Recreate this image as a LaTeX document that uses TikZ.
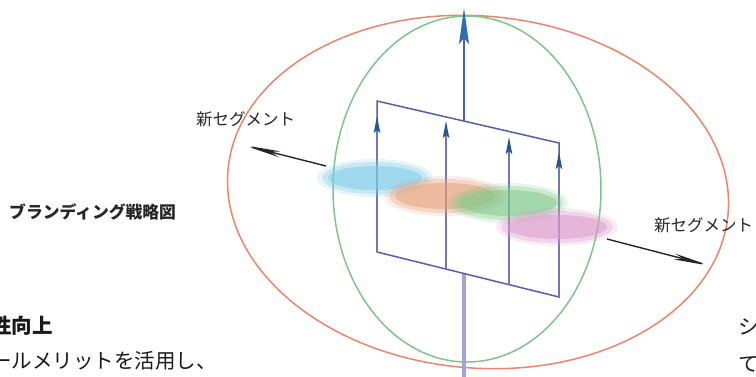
\documentclass[tikz,border=0pt]{standalone}
\usepackage{fontspec}
\newfontfamily\jp{Noto Sans CJK JP}
\usetikzlibrary{arrows.meta}
\definecolor{orel}{HTML}{E8866E}
\definecolor{grel}{HTML}{7EC48C}
\definecolor{axblue}{HTML}{2F6DB2}
\definecolor{planec}{HTML}{5A5EA6}
\definecolor{vline}{HTML}{7476B4}
\definecolor{lowax}{HTML}{A2A4D8}
\definecolor{bcyan}{HTML}{7CCBE8}
\definecolor{borange}{HTML}{E8A07A}
\definecolor{bgreen}{HTML}{7ECA8A}
\definecolor{bpink}{HTML}{DC9ACD}
\newcommand\softblob[4]{%
  \fill[#1, opacity=0.18] (#2) ellipse [x radius=#3+6, y radius=#4+4];
  \fill[#1, opacity=0.3] (#2) ellipse [x radius=#3+1, y radius=#4+1];
  \fill[#1, opacity=0.5] (#2) ellipse [x radius=#3-5, y radius=#4-3];
}
\begin{document}
\begin{tikzpicture}[x=1pt,y=-1pt,
  lbl/.style={font=\jp\fontsize{16.5}{16.5}\selectfont, inner sep=0pt, anchor=west, text=black!85},
  bodytxt/.style={font=\jp\fontsize{20.5}{20.5}\selectfont, inner sep=0pt, anchor=west, text=black!90},
  planeedge/.style={planec, line width=1.5pt},
  uparrow/.style={vline, line width=1.5pt, -{Stealth[length=17pt,width=6.5pt,inset=3pt,color=axblue!80!black,fill=axblue!80!black]}},
  sidearrow/.style={black!85, line width=1.4pt, -{Stealth[length=38pt,width=6pt,inset=10pt]}},
  ringo/.style={orel, line width=1.5pt},
  ringg/.style={grel, line width=1.5pt}]
\useasboundingbox (0,0) rectangle (756,376);
\fill[white] (0,0) rectangle (756,376);

% rings
\draw[ringo, rotate around={-5:(478,192)}] (478,192) ellipse [x radius=251, y radius=176];
\draw[ringg] (467,189) ellipse [x radius=134, y radius=173];

% plane corners and points
\coordinate (P1) at (377,101);
\coordinate (P2) at (559,143);
\coordinate (P3) at (559,297);
\coordinate (P4) at (377,252);
\coordinate (A1) at (377,116);
\coordinate (A2) at (446,121);
\coordinate (A3) at (509,137);
\coordinate (A4) at (559,152);
\coordinate (B2) at (446,269.1);
\coordinate (B3) at (509,284.6);
\coordinate (T0) at (464,121.1);
\coordinate (Ttip) at (464,8);
\coordinate (L0) at (464,273.5);
\coordinate (L1) at (464,380);

% lower axis
\draw[lowax, line width=3.2pt] (L0) -- (L1);
% upper axis
\draw[planec!80!axblue, line width=2pt, -{Stealth[length=36pt,width=10pt,inset=6pt,color=axblue,fill=axblue]}] (T0) -- (Ttip);

% plane
\draw[planeedge, line join=miter] (P1) -- (P2) -- (P3) -- (P4) -- cycle;
\draw[uparrow] (P4) -- (A1);
\draw[uparrow] (B2) -- (A2);
\draw[uparrow] (B3) -- (A3);
\draw[uparrow] (P3) -- (A4);

% lateral axis
\coordinate (Ls) at (326,166);
\coordinate (Lt) at (243,145);
\coordinate (Rs) at (607,239);
\coordinate (Rt) at (711,266);
\draw[sidearrow] (Ls) -- (Lt);
\draw[sidearrow] (Rs) -- (Rt);

% blobs
\coordinate (C1) at (375,178);
\coordinate (C2) at (445,196);
\coordinate (C3) at (508,203);
\coordinate (C4) at (557,227);
\softblob{bcyan}{C1}{52}{15}
\softblob{borange}{C2}{55}{16}
\softblob{bgreen}{C3}{54}{16}
\softblob{bpink}{C4}{55}{15}

% labels
\node[lbl] (segL) at (196,119) {新セグメント};
\node[lbl] (segR) at (654,225) {新セグメント};
\node[lbl, font=\jp\bfseries\fontsize{16.8}{16.8}\selectfont] (title) at (9,212) {ブランディング戦略図};
\node[bodytxt, font=\jp\bfseries\fontsize{20.5}{20.5}\selectfont] (h1) at (-9,326) {性向上};
\node[bodytxt] (h2) at (-9,361) {ールメリットを活用し、};
\node[bodytxt] (r1) at (738,327) {シ};
\node[bodytxt] (r2) at (738,364) {て};
\end{tikzpicture}
\end{document}
